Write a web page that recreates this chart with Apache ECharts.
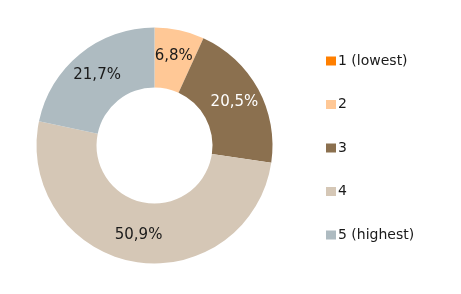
<!DOCTYPE html>
<html>
<head>
<meta charset="utf-8">
<script src="https://cdn.jsdelivr.net/npm/echarts@6/dist/echarts.min.js"></script>
<style>
html,body{margin:0;padding:0;background:#fff;}
#c{width:461px;height:294px;}
</style>
</head>
<body>
<div id="c"></div>
<script>
const categories = ['1 (lowest)', '2', '3', '4', '5 (highest)'];
const values = [0, 6.8, 20.5, 50.9, 21.7];
const colors = ['#FF7F00', '#FFC896', '#8B704F', '#D5C7B6', '#AEBBC1'];
const labelColors = ['#1a1a1a', '#1a1a1a', '#ffffff', '#1a1a1a', '#1a1a1a'];

const chart = echarts.init(document.getElementById('c'), null, {renderer: 'canvas'});
const data = categories.map((name, i) => ({
  name: name,
  value: values[i],
  itemStyle: {color: colors[i]},
  label: {show: values[i] > 0, color: labelColors[i]}
}));
chart.setOption({
  animation: false,
  legend: {
    orient: 'vertical',
    left: 326,
    top: 53,
    padding: 0,
    icon: 'rect',
    itemWidth: 10,
    itemHeight: 9,
    itemGap: 27.5,
    textStyle: {fontFamily: 'DejaVu Sans', fontSize: 14, color: '#1a1a1a', lineHeight: 16, padding: [0, 0, 0, -3]},
    data: categories
  },
  series: [{
    type: 'pie',
    center: [154.5, 145.5],
    radius: [58, 118],
    startAngle: 90,
    clockwise: true,
    avoidLabelOverlap: false,
    label: {
      position: 'inside',
      fontFamily: 'DejaVu Sans',
      fontSize: 15,
      fontWeight: 'normal',
      formatter: p => p.value.toFixed(1).replace('.', ',') + '%'
    },
    labelLine: {show: false},
    emphasis: {disabled: true},
    data: data
  }]
});
</script>
</body>
</html>
